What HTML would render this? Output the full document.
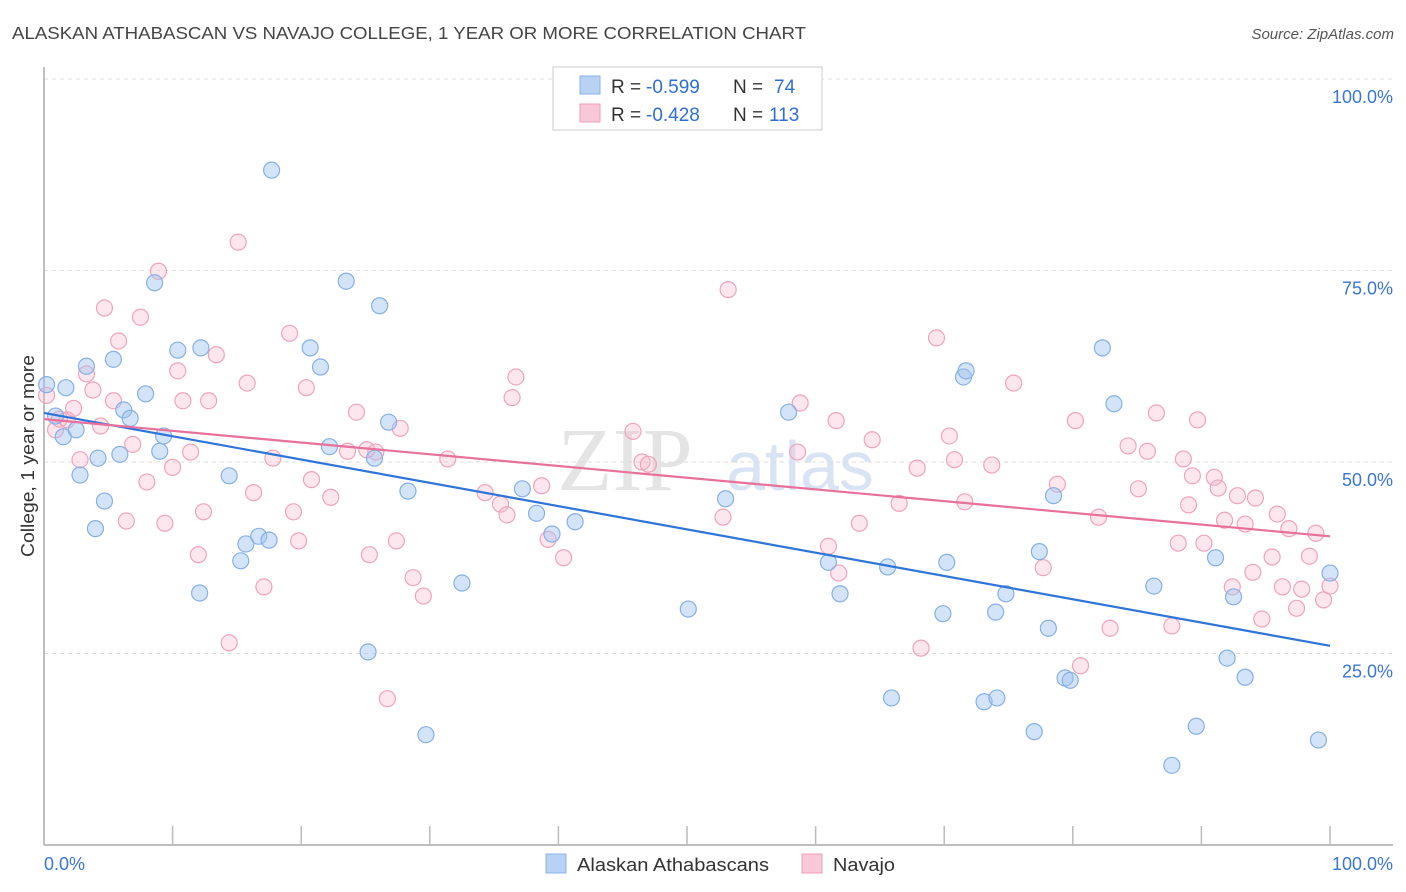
<!DOCTYPE html>
<html><head><meta charset="utf-8"><style>
body{margin:0;background:#fff;font-family:"Liberation Sans",sans-serif;}
svg{display:block}
</style></head><body>
<svg id="chart" width="1406" height="892" xmlns="http://www.w3.org/2000/svg">
<text x="12" y="39" font-size="17.5" fill="#444" textLength="794" lengthAdjust="spacingAndGlyphs">ALASKAN ATHABASCAN VS NAVAJO COLLEGE, 1 YEAR OR MORE CORRELATION CHART</text>
<text x="1394" y="39" font-size="15" fill="#555" text-anchor="end" font-style="italic">Source: ZipAtlas.com</text>
<g>
<text x="625" y="490" font-size="90" fill="#e4e4e4" font-family="Liberation Serif, serif" text-anchor="middle">ZIP</text>
<text x="800" y="490" font-size="70" fill="#d8e4f4" text-anchor="middle">atlas</text>
</g>
<g id="grid"></g>
<g id="axes"></g>
<g id="pts"></g>
<g id="trend"></g>
<text transform="translate(34,456) rotate(-90)" font-size="18" fill="#333" text-anchor="middle" textLength="202" lengthAdjust="spacingAndGlyphs">College, 1 year or more</text>
<g>
<rect x="553" y="67" width="269" height="63" fill="#fff" stroke="#ccc"/>
<rect x="580" y="76" width="20" height="18" fill="#b8d2f4" stroke="#8ab4e8"/>
<rect x="580" y="104" width="20" height="18" fill="#f8c8d8" stroke="#f0a0b8"/>
<text x="611" y="93" font-size="19" fill="#333">R =</text>
<text x="646" y="93" font-size="19" fill="#2f6fd0">-0.599</text>
<text x="733" y="93" font-size="19" fill="#333">N =</text>
<text x="774" y="93" font-size="19" fill="#2f6fd0">74</text>
<text x="611" y="121" font-size="19" fill="#333">R =</text>
<text x="646" y="121" font-size="19" fill="#2f6fd0">-0.428</text>
<text x="733" y="121" font-size="19" fill="#333">N =</text>
<text x="769" y="121" font-size="19" fill="#2f6fd0">113</text>
</g>
<g>
<rect x="546" y="854" width="20" height="19" fill="#b8d2f4" stroke="#8ab4e8"/>
<text x="577" y="871" font-size="18" fill="#333" textLength="192" lengthAdjust="spacingAndGlyphs">Alaskan Athabascans</text>
<rect x="802" y="854" width="20" height="19" fill="#f8c8d8" stroke="#f0a0b8"/>
<text x="833" y="871" font-size="18" fill="#333" textLength="62" lengthAdjust="spacingAndGlyphs">Navajo</text>
</g>
</svg>
<script>
const blueX=[0.2,1.7,0.9,1.5,2.5,2.8,3.3,4.0,4.2,4.7,5.4,5.9,6.2,6.7,7.9,8.6,9.0,9.3,10.4,12.1,12.2,14.4,15.3,15.7,16.7,17.5,17.7,20.7,21.5,22.2,23.5,25.2,25.7,26.1,26.8,28.3,29.7,32.5,37.2,38.3,39.5,41.3,50.1,53.0,57.9,61.0,61.9,65.6,65.9,69.9,70.2,71.5,71.7,73.1,74.0,74.1,74.8,77.0,77.4,78.1,78.5,79.4,79.8,82.3,83.2,86.3,87.7,89.6,91.1,92.0,92.5,93.4,99.1,100];
const blueY=[60.1,59.7,56.0,53.3,54.2,48.3,62.5,41.3,50.5,44.9,63.4,51.0,56.8,55.7,58.9,73.4,51.4,53.4,64.6,32.9,64.9,48.2,37.1,39.3,40.3,39.8,88.1,64.9,62.4,52.0,73.6,25.2,50.5,70.4,55.2,46.2,14.4,34.2,46.5,43.3,40.6,42.2,30.8,45.2,56.5,36.9,32.8,36.3,19.2,30.2,36.9,61.1,61.9,18.7,30.4,19.2,32.8,14.8,38.3,28.3,45.6,21.8,21.5,64.9,57.6,33.8,10.4,15.5,37.5,24.4,32.4,21.9,13.7,35.5];
const pinkX=[0.2,0.9,1.2,1.8,2.3,2.8,3.3,3.8,4.4,4.7,5.4,5.8,6.4,6.9,7.5,8.0,8.9,9.4,10.0,10.4,10.8,11.4,12.0,12.4,12.8,13.4,14.4,15.1,15.8,16.3,17.1,17.8,19.1,19.4,19.8,20.4,20.8,22.3,23.6,24.3,25.1,25.3,25.8,26.7,27.4,27.7,28.7,29.5,31.4,34.3,35.5,36.0,36.4,36.7,38.7,39.2,40.4,45.8,46.5,47.0,52.8,53.2,58.6,58.8,61.0,61.6,61.8,63.4,64.4,66.5,67.9,68.2,69.4,70.4,70.8,71.6,73.7,75.4,77.7,78.8,80.2,80.6,82.0,82.9,84.3,85.1,85.8,86.5,87.7,88.2,88.6,89.0,89.3,89.7,90.2,91.0,91.3,91.8,92.4,92.8,93.4,94.0,94.2,94.7,95.5,95.9,96.3,96.8,97.4,97.8,98.4,98.9,99.5,100];
const pinkY=[58.7,54.2,55.6,55.5,57.0,50.3,61.5,59.4,54.7,70.1,58.0,65.8,42.3,52.3,68.9,47.4,74.9,42.0,49.3,61.9,58.0,51.3,37.9,43.5,58.0,64.0,26.4,78.7,60.3,46.0,33.7,50.5,66.8,43.5,39.7,59.7,47.7,45.4,51.4,56.5,51.6,37.9,51.3,19.1,39.7,54.4,34.9,32.5,50.4,46.0,44.5,43.1,58.4,61.1,46.9,39.9,37.5,54.0,50.0,49.7,42.8,72.5,51.3,57.7,39.0,55.4,35.5,42.0,52.9,44.6,49.2,25.7,66.2,53.4,50.3,44.8,49.6,60.3,36.2,47.1,55.4,23.4,42.8,28.3,52.1,46.5,51.4,56.4,28.6,39.4,50.4,44.4,48.2,55.5,39.4,48.0,46.6,42.4,33.7,45.6,41.9,35.6,45.3,29.5,37.6,43.2,33.7,41.3,30.9,33.4,37.7,40.7,32.0,33.8];
const blueTrend=[56.4,26.0];
const pinkTrend=[55.6,40.3];
const yTicks=[25,50,75,100];
const yTickLabels=["25.0%","50.0%","75.0%","100.0%"];
const xTicks=[0,10,20,30,40,50,60,70,80,90,100];

const NS="http://www.w3.org/2000/svg";
const X0=44,X1=1330,Y0=845,Y100=79;
const sx=v=>X0+(X1-X0)*v/100;
const sy=v=>Y0-(Y0-Y100)*v/100;
function mk(tag,attrs,parent){const e=document.createElementNS(NS,tag);for(const k in attrs)e.setAttribute(k,attrs[k]);parent.appendChild(e);return e;}
const grid=document.getElementById('grid'),axes=document.getElementById('axes'),pts=document.getElementById('pts'),trend=document.getElementById('trend');
yTicks.forEach((t,i)=>{
 const l=mk('line',{x1:X0,x2:1393,y1:sy(t),y2:sy(t),stroke:'#ddd','stroke-dasharray':'4,4'},grid);
 
 
 const tx=mk('text',{x:1393,y:sy(t)+24,'font-size':18,fill:'#3a76d4','text-anchor':'end'},axes);
 tx.textContent=yTickLabels[i];
 
 
});
const ya=mk('line',{x1:X0,x2:X0,y1:67,y2:Y0,stroke:'#aaa','stroke-width':1.5},axes);


const xa=mk('line',{x1:X0,x2:1393,y1:Y0,y2:Y0,stroke:'#aaa','stroke-width':1.5},axes);


xTicks.forEach(t=>{
 const l=mk('line',{x1:sx(t),x2:sx(t),y1:Y0-19,y2:Y0,stroke:'#bbb','stroke-width':1.5},axes);
 
 
});
const xl0=mk('text',{x:X0,y:870,'font-size':18,fill:'#3a76d4'},axes);xl0.textContent='0.0%';


const xl1=mk('text',{x:1393,y:870,'font-size':18,fill:'#3a76d4','text-anchor':'end'},axes);xl1.textContent='100.0%';


function series(xs,ys,fill,stroke,name){
 xs.forEach((x,i)=>{
  const c=mk('circle',{cx:sx(x),cy:sy(ys[i]),r:8,fill:fill,stroke:stroke,'stroke-width':1.2},pts);
  
  
 });
}
series(pinkX,pinkY,'rgba(248,182,204,0.35)','#f0a4bc','navajo');
series(blueX,blueY,'rgba(160,196,240,0.45)','#86b0e6','alaskan-athabascan');
const bl=mk('line',{x1:sx(0),y1:sy(blueTrend[0]),x2:sx(100),y2:sy(blueTrend[1]),stroke:'#2f74d9','stroke-width':2.2},trend);


const pl=mk('line',{x1:sx(0),y1:sy(pinkTrend[0]),x2:sx(100),y2:sy(pinkTrend[1]),stroke:'#e8709a','stroke-width':2.2},trend);


</script>
</body></html>
